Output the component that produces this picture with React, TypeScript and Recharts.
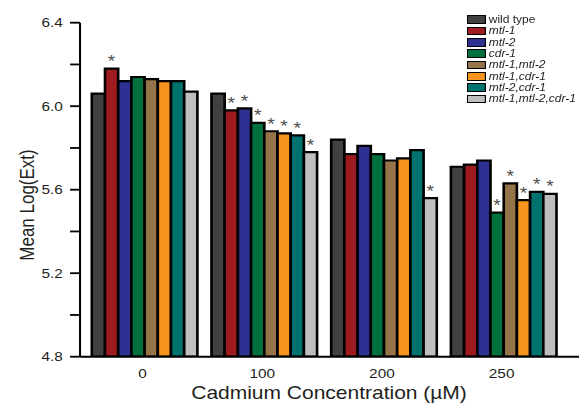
import React from 'react';
import { BarChart, Bar, XAxis, YAxis, Legend, LabelList } from 'recharts';

const categories = ['0', '100', '200', '250'];

const wildType = [6.06, 6.06, 5.84, 5.71];
const mtl1 = [6.18, 5.98, 5.77, 5.72];
const mtl2 = [6.12, 5.99, 5.81, 5.74];
const cdr1 = [6.14, 5.92, 5.77, 5.49];
const mtl1mtl2 = [6.13, 5.88, 5.74, 5.63];
const mtl1cdr1 = [6.12, 5.87, 5.75, 5.55];
const mtl2cdr1 = [6.12, 5.86, 5.79, 5.59];
const triple = [6.07, 5.78, 5.56, 5.58];

// significance markers (asterisks)
const sigWildType = [false, false, false, false];
const sigMtl1 = [true, true, false, false];
const sigMtl2 = [false, true, false, false];
const sigCdr1 = [false, true, false, true];
const sigMtl1mtl2 = [false, true, false, true];
const sigMtl1cdr1 = [false, true, false, true];
const sigMtl2cdr1 = [false, true, false, true];
const sigTriple = [false, true, true, true];

const seriesNames = ['wild type', 'mtl-1', 'mtl-2', 'cdr-1', 'mtl-1,mtl-2', 'mtl-1,cdr-1', 'mtl-2,cdr-1', 'mtl-1,mtl-2,cdr-1'];
const seriesItalic = [false, true, true, true, true, true, true, true];
const seriesColors = ['#414042', '#9e1b20', '#2e3192', '#00703c', '#967449', '#f7941d', '#00736f', '#bcbec0'];
const seriesValues = [wildType, mtl1, mtl2, cdr1, mtl1mtl2, mtl1cdr1, mtl2cdr1, triple];
const seriesSig = [sigWildType, sigMtl1, sigMtl2, sigCdr1, sigMtl1mtl2, sigMtl1cdr1, sigMtl2cdr1, sigTriple];

const yTicks = [4.8, 5.0, 5.2, 5.4, 5.6, 5.8, 6.0, 6.2, 6.4];
const yTickLabels = ['4.8', '', '5.2', '', '5.6', '', '6.0', '', '6.4'];

const keys = seriesNames.map((_, i) => `s${i}`);

const data = categories.map((c, ci) => {
  const row: any = { cat: c };
  keys.forEach((k, si) => {
    row[k] = seriesValues[si][ci];
    row[`${k}_sig`] = seriesSig[si][ci] ? '*' : '';
  });
  return row;
});

const FONT = '"Liberation Sans", Arial, Helvetica, sans-serif';
const TEXT = '#231f20';

const renderStar = (props: any) => {
  const { x, y, width, value } = props;
  if (!value) return null;
  return (
    <text x={Number(x) + Number(width) / 2} y={Number(y) - 1.5} textAnchor="middle" fontSize={16} fill="#4d4d4d" fontFamily={FONT}>
      *
    </text>
  );
};

const LegendBox = () => (
  <div style={{ fontFamily: FONT, fontSize: 10, color: TEXT, lineHeight: '11.33px' }}>
    {seriesNames.map((n, i) => (
      <div key={n} style={{ display: 'flex', alignItems: 'center', height: 11.33, whiteSpace: 'nowrap' }}>
        <div
          style={{
            width: 16,
            height: 8.7,
            boxSizing: 'border-box',
            border: '1.6px solid #000',
            background: seriesColors[i],
            marginRight: 2.3,
            flexShrink: 0,
          }}
        />
        <span style={{ fontStyle: seriesItalic[i] ? 'italic' : 'normal' }}>{n}</span>
      </div>
    ))}
  </div>
);

export default function App() {
  return (
    <div
      style={{
        position: 'absolute',
        left: 0,
        top: 0,
        width: 482.5,
        height: 404,
        transform: 'scaleX(1.2)',
        transformOrigin: '0 0',
        background: '#fff',
      }}
    >
      <BarChart
        width={482.5}
        height={404}
        data={data}
        margin={{ top: 22.7, right: 0, bottom: 0, left: 0 }}
        barCategoryGap={7.6}
        barGap={0}
        style={{ fontFamily: FONT }}
      >
        <XAxis
          dataKey="cat"
          height={47.3}
          padding={{ left: 2.2, right: 14.6 }}
          tickLine={false}
          tickSize={0}
          tickMargin={12.5}
          axisLine={{ stroke: '#000', strokeWidth: 2 }}
          tick={{ fill: TEXT, fontSize: 12.8, fontFamily: FONT }}
          label={{
            content: () => (
              <text x={274.2} y={399} textAnchor="middle" fontSize={17.5} fill={TEXT} fontFamily={FONT}>
                Cadmium Concentration (µM)
              </text>
            ),
          }}
        />
        <YAxis
          width={66.7}
          domain={[4.8, 6.4]}
          ticks={yTicks}
          interval={0}
          allowDataOverflow
          tickSize={8.3}
          tickMargin={6}
          tickFormatter={(v: number) => yTickLabels[yTicks.findIndex((t) => Math.abs(t - v) < 1e-6)] ?? ''}
          axisLine={{ stroke: '#000', strokeWidth: 1.7 }}
          tickLine={{ stroke: '#000', strokeWidth: 1.8 }}
          tick={{ fill: TEXT, fontSize: 12.8, fontFamily: FONT }}
          label={{
            content: () => (
              <text
                x={28.3}
                y={205}
                transform="rotate(-90, 28.3, 205)"
                textAnchor="middle"
                fontSize={17}
                fill={TEXT}
                fontFamily={FONT}
              >
                Mean Log(Ext)
              </text>
            ),
          }}
        />
        <Legend
          layout="vertical"
          align="center"
          verticalAlign="middle"
          wrapperStyle={{ top: 14, left: 389, width: 100, height: 92 }}
          content={() => <LegendBox />}
        />
        {keys.map((k, i) => (
          <Bar
            key={k}
            dataKey={k}
            name={seriesNames[i]}
            fill={seriesColors[i]}
            stroke="#000"
            strokeWidth={2.2}
            isAnimationActive={false}
          >
            <LabelList dataKey={`${k}_sig`} content={renderStar} />
          </Bar>
        ))}
      </BarChart>
    </div>
  );
}
